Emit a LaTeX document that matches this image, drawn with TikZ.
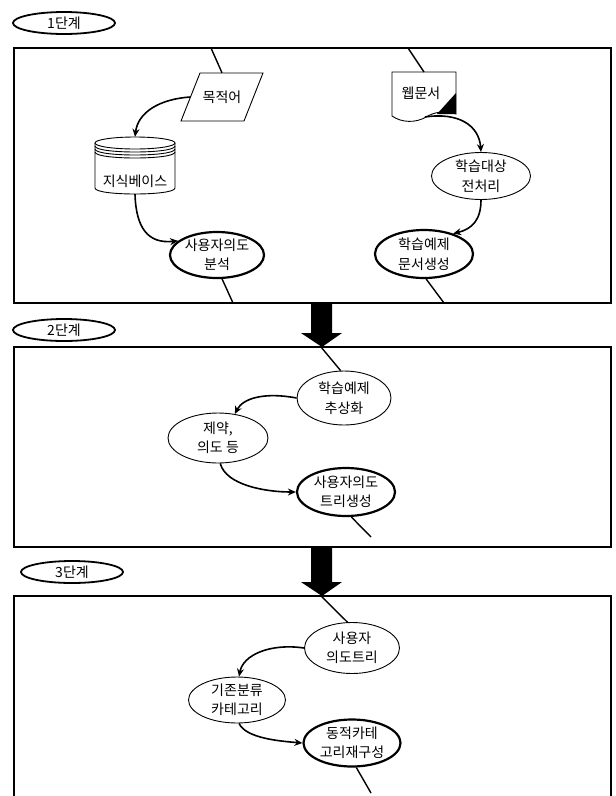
\documentclass[tikz,border=0pt]{standalone}
\usepackage{fontspec}
\setmainfont{Noto Sans CJK KR}
\usetikzlibrary{shapes.geometric,arrows.meta}
\begin{document}
\begin{tikzpicture}[x=1pt,y=-1pt,
  every node/.style={font=\fontsize{14}{19.5}\selectfont, inner sep=0pt, align=center},
  frame/.style={line width=1.6pt},
  proc/.style={ellipse, draw, line width=0.9pt, inner sep=-8pt, minimum width=98pt, minimum height=48pt},
  procb/.style={proc, line width=2.2pt},
  stage/.style={ellipse, draw, line width=1.8pt, inner sep=-4pt, minimum width=102pt, minimum height=22pt},
  conn/.style={line width=1.6pt, -{Stealth[length=8pt,width=7pt]}},
  link/.style={line width=1.4pt},
  thinshape/.style={line width=0.9pt, fill=white}
]
\useasboundingbox (0,0) rectangle (616,796);

% stage labels
\node[stage] (s1) at (64,23) {1단계};
\node[stage] (s2) at (64,330) {2단계};
\node[stage] (s3) at (72,572) {3단계};

% frames
\draw[frame] (14,48) rectangle (611,303);
\draw[frame] (14,347) rectangle (611,547);
\draw[frame] (14,796) -- (14,596) -- (611,596) -- (611,796);

% heavy arrows between stages
\fill (311,303) -- (332,303) -- (332,333) -- (342,333) -- (322,347) -- (301,333) -- (311,333) -- cycle;
\fill (311,547) -- (332,547) -- (332,582) -- (342,582) -- (322,596) -- (301,582) -- (311,582) -- cycle;

% ---------- stage 1 ----------
\draw[thinshape] (200,73) -- (263,73) -- (244,121) -- (181,121) -- cycle;
\node[minimum width=63pt, minimum height=48pt] (obj) at (222,97) {목적어};
\coordinate (t1) at (211,48);
\draw[link] (t1) -- (obj.north);

\draw[thinshape] (392,72) -- (456,72) -- (456,114) .. controls (446,110) and (434,112) .. (426,117) .. controls (416,123) and (402,123) .. (392,116) -- cycle;
\fill (456,93) -- (456,114) -- (437,114) -- cycle;
\node[minimum width=64pt, minimum height=45pt] (doc) at (421,93) {웹문서};
\coordinate (t2) at (408,48);
\draw[link] (t2) -- (424,72);

% cylinder
\draw[thinshape] (95,143) -- (95,188) .. controls (95,196) and (175,196) .. (175,188) -- (175,143);
\draw[thinshape] (135,143) ellipse [x radius=40, y radius=6];
\draw[line width=0.9pt] (95,146) .. controls (95,154) and (175,154) .. (175,146);
\draw[line width=0.9pt] (95,149) .. controls (95,157) and (175,157) .. (175,149);
\draw[line width=0.9pt] (95,152) .. controls (95,160) and (175,160) .. (175,152);
\node[minimum width=80pt, minimum height=57pt] (kb) at (135,165.5) {};
\node (kbt) at (135,181) {지식베이스};

\node[proc, minimum width=99pt, minimum height=47pt] (pre) at (481,176) {학습대상\\전처리};
\node[procb, minimum width=94pt, minimum height=46pt] (ana) at (217,255) {사용자의도\\분석};
\node[procb, minimum width=98pt, minimum height=48pt] (gen) at (424,254) {학습예제\\문서생성};

\coordinate (b1) at (233,303);
\draw[link] (ana.282) -- (b1);
\coordinate (b2) at (444,303);
\draw[link] (gen.275) -- (b2);

\draw[conn] (obj.west) .. controls (160,99) and (138,112) .. (kb.north);
\draw[conn] (kb.south) .. controls (136,228) and (148,244) .. (ana.160);
\draw[conn] (425,117) .. controls (458,112) and (479,125) .. (pre.north);
\draw[conn] (pre.south) .. controls (481,220) and (472,229) .. (gen.35);

% ---------- stage 2 ----------
\coordinate (t3) at (321,347);
\node[proc, minimum width=94pt, minimum height=54pt] (abs) at (344,398) {학습예제\\추상화};
\draw[link] (t3) -- (abs.97);
\node[proc, minimum width=100pt, minimum height=50pt] (con) at (218,438) {제약,\\의도 등};
\node[procb, minimum width=98pt, minimum height=48pt] (tree) at (346,492) {사용자의도\\트리생성};
\coordinate (b3) at (371,537);
\draw[link] (tree.282) -- (b3);
\draw[conn] (abs.west) .. controls (265,392) and (243,398) .. (con.55);
\draw[conn] (con.275) .. controls (226,485) and (265,492) .. (tree.west);

% ---------- stage 3 ----------
\coordinate (t4) at (321,596);
\node[proc, minimum width=95pt, minimum height=51pt] (ut) at (352,648) {사용자\\의도트리};
\draw[link] (t4) -- (ut.100);
\node[proc, minimum width=97pt, minimum height=46pt] (cat) at (237,700) {기존분류\\카테고리};
\node[procb, minimum width=97pt, minimum height=47pt] (dyn) at (352,743) {동적카테\\고리재구성};
\coordinate (b5) at (371,793);
\draw[link] (dyn.280) -- (b5);
\draw[conn] (ut.west) .. controls (270,643) and (243,655) .. (cat.85);
\draw[conn] (cat.275) .. controls (246,738) and (278,741) .. (dyn.west);
\end{tikzpicture}
\end{document}
